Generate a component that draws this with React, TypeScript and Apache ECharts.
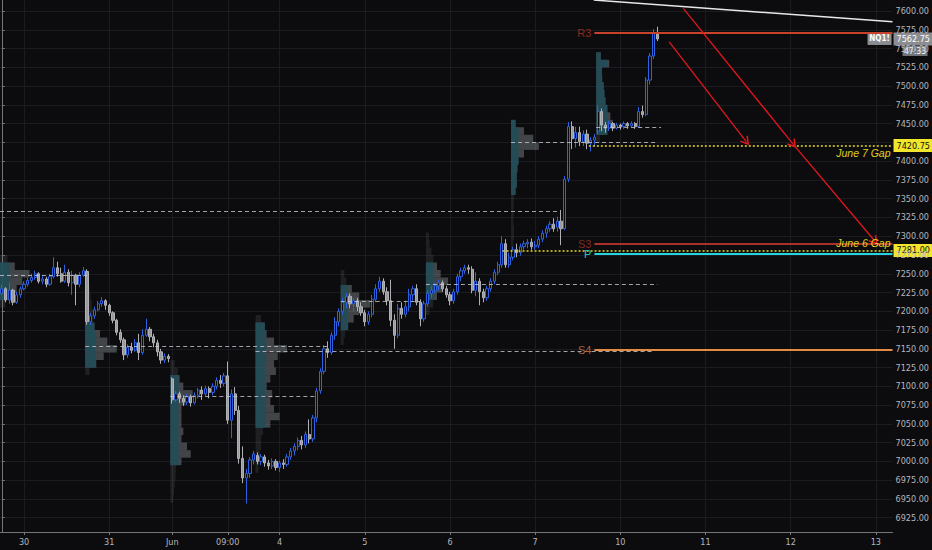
import React, { useEffect, useRef } from 'react';
import * as echarts from 'echarts';

// ---- candles per session: [open, close, low, high] (hourly bars) ----
const may30 = [
  [7224, 7230, 7222, 7235], [7230, 7215, 7212, 7232], [7215, 7228, 7210, 7238], [7228, 7212, 7208, 7230],
  [7212, 7222, 7210, 7226], [7222, 7230, 7218, 7233], [7230, 7236, 7228, 7240], [7236, 7241, 7233, 7245],
  [7241, 7245, 7238, 7250], [7245, 7250, 7242, 7254], [7250, 7240, 7237, 7252], [7240, 7243, 7236, 7248],
  [7243, 7236, 7232, 7246], [7236, 7246, 7234, 7250], [7246, 7258, 7244, 7272], [7258, 7250, 7246, 7266],
  [7250, 7240, 7238, 7258], [7240, 7252, 7238, 7262], [7252, 7238, 7233, 7256], [7238, 7248, 7222, 7254],
  [7248, 7236, 7208, 7250], [7236, 7248, 7232, 7252], [7248, 7254, 7246, 7259],
];
const may31 = [
  [7253, 7186, 7182, 7256], [7186, 7194, 7182, 7198], [7194, 7202, 7190, 7206], [7202, 7210, 7200, 7214],
  [7210, 7214, 7206, 7219], [7214, 7208, 7202, 7216], [7208, 7198, 7194, 7210], [7198, 7188, 7184, 7200],
  [7188, 7172, 7168, 7190], [7172, 7162, 7158, 7176], [7162, 7142, 7135, 7165], [7142, 7152, 7138, 7156],
  [7152, 7148, 7144, 7158], [7148, 7158, 7146, 7163], [7158, 7145, 7135, 7170], [7145, 7168, 7142, 7176],
  [7168, 7176, 7166, 7190], [7176, 7166, 7160, 7179], [7166, 7158, 7152, 7170], [7158, 7146, 7140, 7162],
  [7146, 7135, 7130, 7150], [7135, 7140, 7131, 7144], [7140, 7137, 7132, 7143],
];
const jun3 = [
  [7110, 7082, 7077, 7112], [7082, 7090, 7079, 7094], [7090, 7084, 7078, 7093], [7084, 7079, 7074, 7088],
  [7079, 7086, 7075, 7090], [7086, 7078, 7073, 7089], [7078, 7088, 7076, 7092], [7088, 7095, 7084, 7098],
  [7095, 7090, 7082, 7100], [7090, 7097, 7086, 7101], [7097, 7092, 7084, 7100], [7092, 7100, 7088, 7104],
  [7100, 7108, 7096, 7112], [7108, 7104, 7098, 7115], [7104, 7114, 7100, 7118], [7114, 7055, 7050, 7133],
  [7055, 7090, 7031, 7096], [7090, 7068, 7062, 7099], [7068, 7004, 6997, 7074], [7004, 6978, 6971, 7020],
  [6978, 6984, 6944, 6990], [6984, 7002, 6978, 7006], [7002, 7010, 6996, 7014],
];
const jun4 = [
  [7008, 7000, 6996, 7012], [7000, 7006, 6995, 7010], [7006, 6998, 6993, 7009], [6998, 6994, 6989, 7002],
  [6994, 7000, 6990, 7004], [7000, 6992, 6988, 7003], [6992, 6998, 6986, 7001], [6998, 6996, 6990, 7003],
  [6996, 7006, 6993, 7010], [7006, 7014, 7002, 7018], [7014, 7020, 7008, 7024], [7020, 7028, 7015, 7032],
  [7028, 7022, 7016, 7034], [7022, 7036, 7018, 7040], [7036, 7030, 7024, 7056], [7030, 7058, 7026, 7062],
  [7058, 7094, 7052, 7098], [7094, 7120, 7090, 7124], [7120, 7150, 7116, 7155], [7150, 7145, 7138, 7160],
  [7145, 7168, 7142, 7172], [7168, 7186, 7162, 7192], [7186, 7200, 7180, 7204],
];
const jun5 = [
  [7200, 7212, 7196, 7218], [7212, 7220, 7204, 7224], [7220, 7210, 7204, 7224], [7210, 7214, 7200, 7218],
  [7214, 7206, 7200, 7218], [7206, 7198, 7194, 7212], [7198, 7186, 7180, 7202], [7186, 7196, 7182, 7200],
  [7196, 7216, 7192, 7222], [7216, 7230, 7212, 7236], [7230, 7240, 7226, 7246], [7240, 7226, 7222, 7244],
  [7226, 7214, 7208, 7232], [7214, 7188, 7180, 7242], [7188, 7168, 7150, 7196], [7168, 7204, 7164, 7210],
  [7204, 7196, 7190, 7212], [7196, 7206, 7192, 7214], [7206, 7222, 7200, 7230], [7222, 7230, 7214, 7234],
  [7230, 7212, 7208, 7236], [7212, 7190, 7180, 7216], [7190, 7210, 7186, 7214],
];
const jun6 = [
  [7210, 7224, 7206, 7228], [7224, 7228, 7218, 7234], [7228, 7234, 7224, 7238], [7234, 7238, 7228, 7242],
  [7238, 7230, 7226, 7241], [7230, 7222, 7218, 7234], [7222, 7214, 7208, 7226], [7214, 7226, 7210, 7230],
  [7226, 7246, 7222, 7250], [7246, 7254, 7240, 7258], [7254, 7258, 7250, 7262], [7258, 7256, 7250, 7262],
  [7256, 7228, 7224, 7260], [7228, 7240, 7220, 7252], [7240, 7226, 7208, 7244], [7226, 7218, 7212, 7230],
  [7218, 7230, 7214, 7234], [7230, 7240, 7226, 7244], [7240, 7252, 7236, 7256], [7252, 7262, 7248, 7266],
  [7262, 7290, 7258, 7300], [7290, 7262, 7258, 7296], [7262, 7272, 7258, 7278],
];
const jun7 = [
  [7272, 7282, 7268, 7286], [7282, 7278, 7272, 7290], [7278, 7286, 7274, 7290], [7286, 7290, 7282, 7294],
  [7290, 7292, 7284, 7296], [7292, 7286, 7282, 7297], [7286, 7288, 7282, 7294], [7288, 7296, 7284, 7300],
  [7296, 7304, 7292, 7308], [7304, 7310, 7298, 7314], [7310, 7316, 7306, 7320], [7316, 7310, 7306, 7324],
  [7312, 7320, 7306, 7326], [7320, 7310, 7288, 7335], [7310, 7376, 7308, 7380], [7376, 7446, 7372, 7452],
  [7446, 7430, 7416, 7453], [7430, 7438, 7418, 7446], [7438, 7426, 7420, 7446], [7426, 7436, 7420, 7441],
  [7436, 7424, 7416, 7442], [7424, 7428, 7413, 7432], [7428, 7432, 7420, 7436],
];
const jun10 = [
  [7440, 7466, 7436, 7474], [7466, 7448, 7440, 7470], [7448, 7444, 7438, 7452], [7444, 7450, 7440, 7454],
  [7450, 7444, 7440, 7452], [7444, 7448, 7442, 7451], [7448, 7446, 7442, 7450], [7446, 7450, 7443, 7453],
  [7450, 7447, 7443, 7452], [7447, 7450, 7444, 7453], [7450, 7446, 7443, 7452], [7446, 7466, 7444, 7472],
  [7466, 7462, 7458, 7474], [7462, 7508, 7460, 7512], [7508, 7540, 7502, 7544], [7540, 7570, 7536, 7576],
  [7570, 7562.75, 7560, 7579],
];
const sessions = [may30, may31, jun3, jun4, jun5, jun6, jun7, jun10];

// ---- axes ----
const xTickIdx = [6, 29, 46, 61, 75, 98, 121, 144, 167, 190, 213, 236];
const xTickLabels = ['30', '31', 'Jun', '09:00', '4', '5', '6', '7', '10', '11', '12', '13'];
const priceTicks = [
  6925, 6950, 6975, 7000, 7025, 7050, 7075, 7100, 7125, 7150, 7175, 7200, 7225, 7250,
  7275, 7300, 7325, 7350, 7375, 7400, 7425, 7450, 7475, 7500, 7525, 7550, 7575, 7600,
];
// tick labels fully covered by a price tag in the reference
const hiddenPriceLabels = [7425];

// ---- session volume profiles: rows [price, width in bars] ----
const profMay30 = [[7270, 2], [7260, 4], [7250, 8], [7240, 6], [7230, 4.5], [7220, 3], [7210, 1.5]];
const profMay31 = [[7250, 0.8], [7240, 1], [7230, 1.2], [7220, 1.5], [7210, 1.8], [7200, 2], [7190, 2.2], [7180, 2.5], [7170, 4], [7160, 6], [7150, 8.5], [7140, 5], [7130, 3], [7120, 1.2]];
const profJun3 = [[7130, 1.2], [7120, 2], [7110, 2.5], [7100, 3.5], [7090, 6], [7080, 4], [7070, 3], [7060, 3], [7050, 3], [7040, 3.5], [7030, 3], [7020, 4.5], [7010, 5.5], [7000, 3], [6990, 1.5], [6980, 1.4], [6970, 1.2], [6960, 1], [6950, 0.8]];
const profJun4 = [[7190, 1.5], [7180, 2.5], [7170, 3], [7160, 5], [7150, 8.5], [7140, 6], [7130, 5], [7120, 5.5], [7110, 4], [7100, 3], [7090, 4.5], [7080, 4], [7070, 5], [7060, 6.5], [7050, 4], [7040, 2], [7030, 1.5], [7020, 1.5], [7010, 1.2], [7000, 1], [6990, 0.8]];
const profJun5 = [[7250, 1], [7240, 1.5], [7230, 3], [7220, 5], [7210, 8], [7200, 5], [7190, 3.5], [7180, 2], [7170, 1.2], [7160, 0.8]];
const profJun6 = [[7300, 0.8], [7290, 1], [7280, 1.5], [7270, 2], [7260, 3], [7250, 4], [7240, 6], [7230, 4.5], [7220, 3], [7210, 2], [7200, 1]];
const profJun7 = [[7450, 1.2], [7440, 3.5], [7430, 6], [7420, 7.5], [7410, 3.5], [7400, 2], [7390, 1.7], [7380, 1.5], [7370, 1.6], [7360, 1.2], [7350, 0.8], [7340, 0.7], [7330, 0.7], [7320, 0.6], [7310, 0.8], [7300, 0.8], [7290, 0.6], [7280, 0.5]];
const profJun10 = [[7540, 1.2], [7530, 3.5], [7520, 1.5], [7510, 1.6], [7500, 2], [7490, 2.2], [7480, 2.5], [7470, 3], [7460, 3.8], [7450, 4.5], [7440, 3], [7430, 1]];
const profileRows = [profMay30, profMay31, profJun3, profJun4, profJun5, profJun6, profJun7, profJun10];
const profileStarts = [-0.5, 22.5, 45.5, 68.5, 91.5, 114.5, 137.5, 160.5];
const profileVA = [[7215, 7265], [7125, 7180], [6995, 7110], [7045, 7185], [7175, 7235], [7215, 7265], [7355, 7455], [7435, 7545]];
const profileTeal = [2.7, 2.7, 2.2, 2.7, 2, 2, 2, 3];
const profileStep = 10;

// ---- POC (dashed) lines: [price, fromBar, toBar] ----
const pocLines = [
  [7248, -0.5, 23], [7333, -0.5, 150.5], [7154, 22.5, 88], [7087, 45.5, 85], [7147, 68.5, 176],
  [7213, 91.5, 113], [7236, 114.5, 177], [7425, 137.5, 177], [7445, 160.5, 178],
];

// ---- pivot levels ----
const levelNames = ['R3', 'S3', 'P', 'S4'];
const levelValues = [7570.5, 7290, 7276, 7148.5];
const levelFromBar = 160;

// ---- gaps ----
const gapNames = ['June 7 Gap', 'June 6 Gap'];
const gapValues = [7420.75, 7281];
const gapFromBar = [158.5, 135.2];

// ---- drawings ----
const arrows = [
  [[180.2, 7559], [201.0, 7426]],
  [[184.0, 7603.6], [213.7, 7422.4]],
  [[213.7, 7422.4], [235.7, 7293.6]],
];
const trendline = [[159.8, 7614.6], [240.5, 7585.7]];
const lastPrice = 7562.75;
const symbolName = 'NQ1!';
const countdown = '47:33';

const X_MIN = -0.5;
const X_MAX = 240.5;

const levelStyle: Record<string, { line: string; label: string; width: number }> = {
  R3: { line: '#c9432b', label: '#8a2b22', width: 2 },
  S3: { line: '#a9302b', label: '#7f2b27', width: 2 },
  P: { line: '#26d3dc', label: '#22c4cc', width: 2 },
  S4: { line: '#e08c44', label: '#a8663c', width: 2 },
};

const AX_FONT = "'Liberation Sans Narrow', 'DejaVu Sans Condensed', 'Liberation Sans', sans-serif";

export default function App() {
  const ref = useRef<HTMLDivElement>(null);
  useEffect(() => {
    document.body.style.margin = '0';
    document.body.style.background = '#0c0c0f';
    const chart = echarts.init(ref.current!, undefined, { renderer: 'svg' });

    const candles: number[][] = [];
    sessions.forEach((s) => s.forEach((d) => candles.push([candles.length, d[0], d[1], d[2], d[3]])));

    const profileData: number[][] = [];
    profileRows.forEach((rows, k) => {
      rows.forEach(([p, w]) => {
        const va = p >= profileVA[k][0] && p <= profileVA[k][1] ? 1 : 0;
        profileData.push([profileStarts[k], p, w, profileStep, va, profileTeal[k]]);
      });
    });

    const markLines: any[] = [];
    pocLines.forEach(([p, a, b]) => {
      markLines.push([
        { coord: [a, p], lineStyle: { color: 'rgba(200,200,205,0.8)', width: 1, type: [4, 3] } },
        { coord: [b, p] },
      ]);
    });
    gapNames.forEach((name, i) => {
      markLines.push([
        {
          coord: [gapFromBar[i], gapValues[i]],
          lineStyle: { color: '#e4d624', width: 1.5, type: [2, 2] },
          label: {
            show: true,
            formatter: name,
            position: i === 0 ? 'insideEndBottom' : 'insideEndTop',
            color: '#e0d21f',
            fontStyle: 'italic',
            fontSize: 10.5,
            fontFamily: 'Liberation Sans',
            distance: [2, 2],
          },
        },
        { coord: [X_MAX, gapValues[i]] },
      ]);
    });
    levelNames.forEach((name, i) => {
      const st = levelStyle[name];
      markLines.push([
        {
          coord: [levelFromBar, levelValues[i]],
          lineStyle: { color: st.line, width: st.width, type: 'solid' },
          label: {
            show: true,
            formatter: name,
            position: 'start',
            color: st.label,
            fontSize: 11,
            fontFamily: 'Liberation Sans',
            distance: 3,
          },
        },
        { coord: [X_MAX, levelValues[i]] },
      ]);
    });
    markLines.push([
      { coord: trendline[0], lineStyle: { color: '#e8e8e8', width: 1.5, type: 'solid' } },
      { coord: trendline[1] },
    ]);
    arrows.forEach(([a, b]) => {
      markLines.push([
        { coord: a, lineStyle: { color: '#e3161c', width: 1.3, type: 'solid' } },
        { coord: b, symbol: 'path://M5,0 L10,9 L8.8,10 L5,3.3 L1.2,10 L0,9 Z', symbolSize: [10, 9] },
      ]);
    });

    const option: any = {
      animation: false,
      backgroundColor: '#0c0c0f',
      textStyle: { fontFamily: 'Liberation Sans' },
      grid: { left: 0, right: 35, top: 0, bottom: 18, containLabel: false },
      xAxis: {
        type: 'value',
        min: X_MIN,
        max: X_MAX,
        axisLine: { show: true, lineStyle: { color: '#75767a', width: 1 } },
        axisTick: { show: true, customValues: xTickIdx, length: 3, lineStyle: { color: '#75767a' } },
        axisLabel: {
          customValues: xTickIdx,
          formatter: (v: number) => {
            const k = xTickIdx.indexOf(Math.round(v));
            return k >= 0 ? xTickLabels[k] : '';
          },
          color: '#b4b6bc',
          fontSize: 9,
          fontFamily: AX_FONT,
          margin: 5,
        },
        splitLine: { show: true, lineStyle: { color: '#1b1c21', width: 1 } },
      },
      yAxis: {
        type: 'value',
        position: 'right',
        min: 6906,
        max: 7614.65,
        axisLine: { show: true, lineStyle: { color: '#75767a', width: 1 } },
        axisTick: { show: true, customValues: priceTicks, length: 3, lineStyle: { color: '#75767a' } },
        axisLabel: {
          customValues: priceTicks.filter((v) => hiddenPriceLabels.indexOf(v) < 0),
          formatter: (v: number) => v.toFixed(2),
          color: '#b4b6bc',
          fontSize: 9,
          fontFamily: AX_FONT,
          margin: 3,
        },
        splitLine: { show: true, lineStyle: { color: '#1b1c21', width: 1 } },
      },
      series: [
        {
          type: 'custom',
          name: 'profiles',
          z: 1,
          clip: true,
          silent: true,
          data: profileData,
          encode: { x: 0, y: 1 },
          renderItem: (params: any, api: any) => {
            const x0 = api.value(0);
            const p = api.value(1);
            const w = api.value(2);
            const st = api.value(3);
            const va = api.value(4);
            const tw = api.value(5);
            const a = api.coord([x0, p + st / 2]);
            const b = api.coord([x0 + w, p - st / 2]);
            const children: any[] = [
              {
                type: 'rect',
                shape: { x: a[0], y: a[1], width: b[0] - a[0], height: b[1] - a[1] },
                style: { fill: va ? 'rgba(112,116,120,0.55)' : 'rgba(100,103,107,0.22)' },
              },
            ];
            if (va) {
              const c = api.coord([x0 + Math.min(w, tw), p]);
              children.push({
                type: 'rect',
                shape: { x: a[0], y: a[1], width: c[0] - a[0], height: b[1] - a[1] },
                style: { fill: 'rgba(30,78,90,0.85)' },
              });
            }
            return { type: 'group', children };
          },
        },
        {
          type: 'candlestick',
          name: 'NQ1!',
          z: 3,
          barWidth: 2.7,
          data: candles,
          encode: { x: 0, y: [1, 2, 3, 4] },
          itemStyle: {
            color: '#0c0c10',
            color0: '#9a9b9e',
            borderColor: '#2e62e2',
            borderColor0: '#b0b1b4',
            borderWidth: 1,
          },
          markLine: {
            silent: true,
            animation: false,
            z: 10,
            symbol: ['none', 'none'],
            label: { show: false },
            data: markLines,
          },
        },
      ],
    };
    chart.setOption(option);

    const toY = (v: number) => chart.convertToPixel({ yAxisIndex: 0 }, v) as number;
    const axisX = chart.convertToPixel({ xAxisIndex: 0 }, X_MAX) as number;
    const yLast = toY(lastPrice);

    const tag = (v: number, text: string, bg: string, fg: string) => [
      { type: 'rect', shape: { x: axisX + 1, y: toY(v) - 6.5, width: 932 - axisX - 1, height: 13 }, style: { fill: bg } },
      {
        type: 'text',
        style: { x: axisX + 4, y: toY(v), text, fill: fg, fontSize: 9, fontFamily: AX_FONT, align: 'left', verticalAlign: 'middle' },
      },
    ];

    chart.setOption({
      graphic: [
        {
          type: 'group',
          z: 100,
          children: [
            ...tag(gapValues[0], gapValues[0].toFixed(2), '#f1e62b', '#111111'),
            ...tag(gapValues[1], gapValues[1].toFixed(2), '#f1e62b', '#111111'),
            ...tag(lastPrice, lastPrice.toFixed(2), '#8b8d92', '#ffffff'),
            { type: 'rect', shape: { x: axisX - 25, y: yLast - 6, width: 24, height: 12 }, style: { fill: '#8b8d92' } },
            {
              type: 'text',
              style: { x: axisX - 13, y: yLast, text: symbolName, fill: '#ffffff', fontSize: 8, fontWeight: 'bold', fontFamily: AX_FONT, align: 'center', verticalAlign: 'middle' },
            },
            { type: 'rect', shape: { x: axisX + 10, y: yLast + 7, width: 25, height: 10 }, style: { fill: '#74767b' } },
            {
              type: 'text',
              style: { x: axisX + 22.5, y: yLast + 12, text: countdown, fill: '#ffffff', fontSize: 8.5, fontFamily: AX_FONT, align: 'center', verticalAlign: 'middle' },
            },
          ],
        },
      ],
    });

    return () => chart.dispose();
  }, []);
  return <div ref={ref} style={{ width: 932, height: 550 }} />;
}
